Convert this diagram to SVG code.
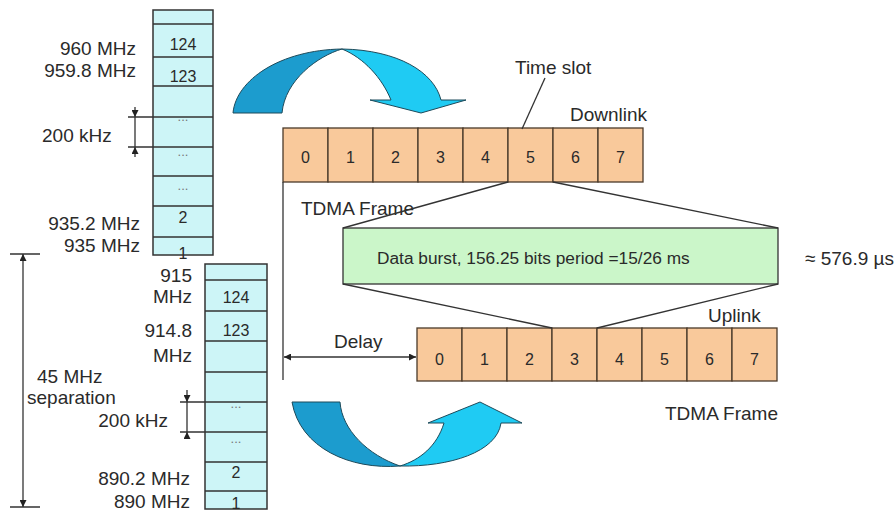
<svg xmlns="http://www.w3.org/2000/svg" width="896" height="511" viewBox="0 0 896 511">
<defs>
<style>
text{font-family:"Liberation Sans",Arial,sans-serif;fill:#2a2a2a}
.lbl{font-size:19px}
.end{text-anchor:end}
.mid{text-anchor:middle}
.cell{font-size:16px;text-anchor:middle}
.dots{font-size:13px;text-anchor:middle;fill:#777}
.col{fill:#cdf5f7;stroke:#333;stroke-width:1.5}
.row{stroke:#333;stroke-width:1.5}
.slot{fill:#f9c99b;stroke:#4a3a2a;stroke-width:1.3}
.ln{stroke:#333;stroke-width:1.3;fill:none}
.dk{fill:#1c9cce;stroke:#1d4a5a;stroke-width:1}
.lt{fill:#1fcbf3;stroke:#1d4a5a;stroke-width:1}
</style>
<marker id="ah" viewBox="0 0 10 10" refX="10" refY="5" markerWidth="7" markerHeight="7" orient="auto-start-reverse" markerUnits="userSpaceOnUse">
<path d="M0,0 L10,5 L0,10 z" fill="#222"/>
</marker>
</defs>
<rect width="896" height="511" fill="#fff"/>

<g id="downlink-band">
<rect class="col" x="153" y="10" width="60" height="245"/>
<path class="row" d="M153,24H213M153,57H213M153,86H213M153,117H213M153,147H213M153,176H213M153,206H213M153,237H213"/>
<text class="cell" x="183" y="50">124</text>
<text class="cell" x="183" y="82">123</text>
<text class="dots" x="183" y="121">...</text>
<text class="dots" x="183" y="156">...</text>
<text class="dots" x="183" y="190">...</text>
<text class="cell" x="183" y="223">2</text>
<text class="cell" x="183" y="259">1</text>
</g>
<g id="downlink-labels">
<text class="lbl end" x="136" y="55">960 MHz</text>
<text class="lbl end" x="136" y="77">959.8 MHz</text>
<text class="lbl" x="42" y="142">200 kHz</text>
<text class="lbl end" x="140" y="230">935.2 MHz</text>
<text class="lbl end" x="140" y="252">935 MHz</text>
</g>

<g id="uplink-band">
<rect class="col" x="205" y="264" width="62" height="245"/>
<path class="row" d="M205,280H267M205,311H267M205,341H267M205,372H267M205,402H267M205,432H267M205,462H267M205,491H267"/>
<text class="cell" x="236" y="303">124</text>
<text class="cell" x="236" y="336">123</text>
<text class="dots" x="236" y="408">...</text>
<text class="dots" x="236" y="443">...</text>
<text class="cell" x="236" y="478">2</text>
<text class="cell" x="236" y="509">1</text>
</g>
<g id="uplink-labels">
<text class="lbl end" x="192" y="282">915</text>
<text class="lbl end" x="192" y="303">MHz</text>
<text class="lbl end" x="192" y="337">914.8</text>
<text class="lbl end" x="192" y="362">MHz</text>
<text class="lbl" x="37" y="383">45 MHz</text>
<text class="lbl" x="27" y="404">separation</text>
<text class="lbl end" x="168" y="427">200 kHz</text>
<text class="lbl end" x="190" y="485">890.2 MHz</text>
<text class="lbl end" x="190" y="508">890 MHz</text>
</g>

<g id="downlink-frame">
<rect class="slot" x="283" y="128" width="45" height="54"/>
<rect class="slot" x="328" y="128" width="45" height="54"/>
<rect class="slot" x="373" y="128" width="45" height="54"/>
<rect class="slot" x="418" y="128" width="45" height="54"/>
<rect class="slot" x="463" y="128" width="45" height="54"/>
<rect class="slot" x="508" y="128" width="45" height="54"/>
<rect class="slot" x="553" y="128" width="45" height="54"/>
<rect class="slot" x="598" y="128" width="45" height="54"/>
<text class="cell" x="305.5" y="163">0</text>
<text class="cell" x="350.5" y="163">1</text>
<text class="cell" x="395.5" y="163">2</text>
<text class="cell" x="440.5" y="163">3</text>
<text class="cell" x="485.5" y="163">4</text>
<text class="cell" x="530.5" y="163">5</text>
<text class="cell" x="575.5" y="163">6</text>
<text class="cell" x="620.5" y="163">7</text>
</g>

<g id="uplink-frame">
<rect class="slot" x="417" y="328" width="45" height="53"/>
<rect class="slot" x="462" y="328" width="45" height="53"/>
<rect class="slot" x="507" y="328" width="45" height="53"/>
<rect class="slot" x="552" y="328" width="45" height="53"/>
<rect class="slot" x="597" y="328" width="45" height="53"/>
<rect class="slot" x="642" y="328" width="45" height="53"/>
<rect class="slot" x="687" y="328" width="45" height="53"/>
<rect class="slot" x="732" y="328" width="45" height="53"/>
<text class="cell" x="439.5" y="365">0</text>
<text class="cell" x="484.5" y="365">1</text>
<text class="cell" x="529.5" y="365">2</text>
<text class="cell" x="574.5" y="365">3</text>
<text class="cell" x="619.5" y="365">4</text>
<text class="cell" x="664.5" y="365">5</text>
<text class="cell" x="709.5" y="365">6</text>
<text class="cell" x="754.5" y="365">7</text>
</g>

<g id="data-burst">
<rect x="343" y="228" width="435" height="56" fill="#cbf6c9" stroke="#333" stroke-width="1.3"/>
<text x="377" y="264" style="font-size:17.3px">Data burst, 156.25 bits period =15/26 ms</text>
</g>

<g id="frame-labels">
<text class="lbl" x="515" y="74">Time slot</text>
<text class="lbl" x="570" y="121">Downlink</text>
<text class="lbl" x="301" y="215">TDMA Frame</text>
<text class="lbl" x="805" y="265">≈ 576.9 µs</text>
<text class="lbl" x="708" y="322">Uplink</text>
<text class="lbl" x="334" y="348">Delay</text>
<text class="lbl" x="665" y="420">TDMA Frame</text>
</g>

<g id="connectors">
<path class="ln" d="M128,117H153M128,147H153M135,117V147"/>
<path class="ln" d="M180,402H205M180,432H205M187,402V432"/>
<path class="ln" d="M10,254H40M10,507H40"/>
<line class="ln" x1="23" y1="254" x2="23" y2="507" marker-start="url(#ah)" marker-end="url(#ah)"/>
<line class="ln" x1="135" y1="107" x2="135" y2="117" marker-end="url(#ah)"/>
<line class="ln" x1="135" y1="157" x2="135" y2="147" marker-end="url(#ah)"/>
<line class="ln" x1="187" y1="390" x2="187" y2="402" marker-end="url(#ah)"/>
<line class="ln" x1="187" y1="436" x2="187" y2="432" marker-end="url(#ah)"/>
<path class="ln" d="M283,182V380"/>
<line class="ln" x1="284" y1="357" x2="416" y2="357" marker-start="url(#ah)" marker-end="url(#ah)"/>
<path class="ln" d="M545,78L522,129"/>
<path class="ln" d="M508,182L343,228M553,182L778,228M343,284L552,328M778,284L597,328"/>
</g>

<g id="arrow-top">
<path class="dk" d="M233,113C236,80 280,50 342,49C318,56 285,80 282,113Z"/>
<path class="lt" d="M342,49C398,50 434,72 441,100L466,100L421,113L370,100L391,100C382,78 364,58 342,49Z"/>
</g>
<g id="arrow-bottom">
<path class="dk" d="M292,402H340C342,430 368,455 400,466C350,470 300,448 292,402Z"/>
<path class="lt" d="M400,466C450,467 497,452 501,423L522,423L480,402L428,423L444,423C437,446 420,460 400,466Z"/>
</g>
</svg>
